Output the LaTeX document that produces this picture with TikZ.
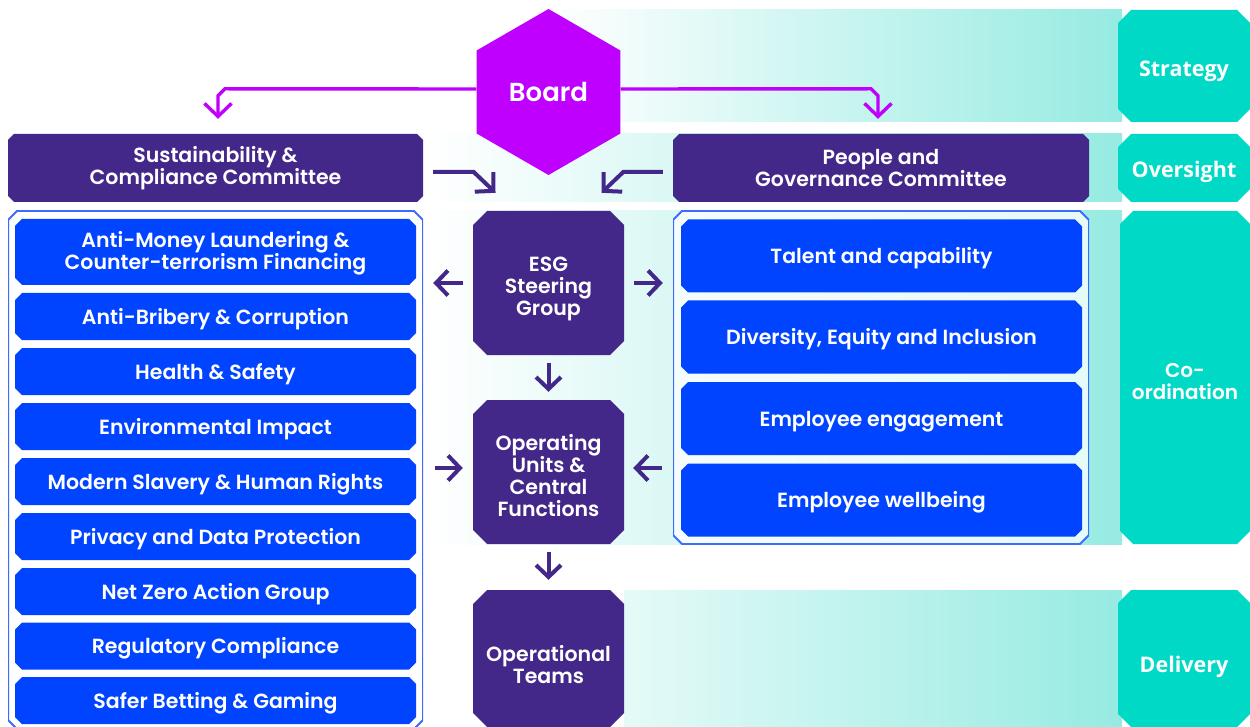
\documentclass[tikz,border=0pt]{standalone}
\usepackage{fontspec}
\setmainfont{Poppins}[BoldFont={Poppins SemiBold}]
\newfontfamily\lblfont{Open Sans}
\usetikzlibrary{shapes.geometric,arrows.meta,calc}

\definecolor{deep}{HTML}{43288A}
\definecolor{vivid}{HTML}{0044FF}
\definecolor{magent}{HTML}{BF00FF}
\definecolor{tealbox}{HTML}{00D9C6}
\definecolor{tealband}{HTML}{96EBE2}
\definecolor{outl}{HTML}{3D6BFF}

\newcommand{\ppb}{path picture bounding box}
\tikzset{
  % rectangle node whose background is an octagon with cut corners
  chbg/.style 2 args={rectangle, inner sep=0pt, path picture={
    \path[#1] ($(\ppb.south west)+(0,-#2)$) -- ($(\ppb.south west)+(#2,0)$)
      -- ($(\ppb.south east)+(-#2,0)$) -- ($(\ppb.south east)+(0,-#2)$)
      -- ($(\ppb.north east)+(0,#2)$) -- ($(\ppb.north east)+(-#2,0)$)
      -- ($(\ppb.north west)+(#2,0)$) -- ($(\ppb.north west)+(0,#2)$) -- cycle;}},
  txt/.style={font=\fontsize{#1}{22}\selectfont\bfseries},
  deepbox/.style={chbg={fill=deep}{#1}, text=white, align=center, txt=20.5},
  itembox/.style={chbg={fill=vivid}{7}, text=white, align=center,
    minimum width=401pt, txt=20.5, text height=21pt},
  tagbox/.style={chbg={fill=tealbox}{13}, text=white, align=center,
    minimum width=132pt, font=\lblfont\fontsize{21.5}{23}\selectfont\bfseries},
  darrow/.style={draw=deep, line width=4pt, -{Straight Barb[length=12pt,width=25pt]}},
  slant/.style={draw=deep, line width=4pt, -{Straight Barb[length=13pt,width=27pt]}},
  marrow/.style={draw=magent, line width=3.4pt, -{Straight Barb[length=13pt,width=27pt]}},
}

\begin{document}
\begin{tikzpicture}[x=1pt,y=-1pt]
\useasboundingbox (0,0) rectangle (1250,727);

% tier bands
\shade[left color=white, right color=tealband] (548,10) rectangle (1122,122);
\shade[left color=white, right color=tealband] (430,134) rectangle (1122,202);
\shade[left color=white, right color=tealband] (430,211) rectangle (1122,544);
\shade[left color=tealband!25, right color=tealband] (624,590) rectangle (1122,727);

% tier tags
\node[tagbox, minimum height=112pt, text height=27pt] (tStrat) at (1184,66) {Strategy};
\node[tagbox, minimum height=68pt, text height=25pt] (tOver) at (1184,168) {Oversight};
\node[tagbox, minimum width=130pt, minimum height=333pt, txt=20, text height=45pt] (tCoord) at (1185,377.5) {Co-\\ordination};
\node[tagbox, minimum height=137pt, text height=33pt] (tDeliv) at (1184,658.5) {Delivery};

% board
\node[regular polygon, regular polygon sides=6, regular polygon rotate=30,
      minimum size=166pt, inner sep=0pt, fill=magent, text=white,
      font=\fontsize{26}{28}\selectfont\bfseries] (Board) at (548.5,92) {Board};

% committees
\node[deepbox=6, minimum width=415pt, minimum height=68pt] (Sust) at (215.5,168)
  {Sustainability \&\\Compliance Committee};
\node[deepbox=6, minimum width=416pt, minimum height=68pt] (People) at (881,168)
  {People and\\Governance Committee};

% central column
\node[deepbox=14, minimum width=151pt, minimum height=144pt, text height=71pt] (ESG) at (548.5,283)
  {ESG\\Steering\\Group};
\node[deepbox=14, minimum width=151pt, minimum height=144pt, text height=89pt] (Ops) at (548.5,472)
  {Operating\\Units \&\\Central\\Functions};
\node[deepbox=14, minimum width=151pt, minimum height=137pt, text height=51pt] (Teams) at (548.5,658.5)
  {Operational\\Teams};

% left list
\node[chbg={fill=white, draw=outl, line width=2pt}{9}, minimum width=415pt, minimum height=518pt] (LeftBox) at (215.5,470) {};
\node[itembox, minimum height=66pt, text height=41pt] (l1) at (215.5,252) {Anti-Money Laundering \&\\Counter-terrorism Financing};
\node[itembox, minimum height=47pt] (l2) at (215.5,316.5) {Anti-Bribery \& Corruption};
\node[itembox, minimum height=47pt] (l3) at (215.5,371.5) {Health \& Safety};
\node[itembox, minimum height=47pt] (l4) at (215.5,426.5) {Environmental Impact};
\node[itembox, minimum height=47pt] (l5) at (215.5,481.5) {Modern Slavery \& Human Rights};
\node[itembox, minimum height=47pt] (l6) at (215.5,536.5) {Privacy and Data Protection};
\node[itembox, minimum height=47pt] (l7) at (215.5,591.5) {Net Zero Action Group};
\node[itembox, minimum height=47pt] (l8) at (215.5,646) {Regulatory Compliance};
\node[itembox, minimum height=47pt] (l9) at (215.5,700.5) {Safer Betting \& Gaming};

% right list
\node[chbg={fill=white, fill opacity=0.75, draw=outl, line width=2pt}{9}, minimum width=416pt, minimum height=333pt] (RightBox) at (881,377.5) {};
\node[itembox, minimum height=73pt] (r1) at (881.5,256) {Talent and capability};
\node[itembox, minimum height=73pt] (r2) at (881.5,337) {Diversity, Equity and Inclusion};
\node[itembox, minimum height=73pt] (r3) at (881.5,418.5) {Employee engagement};
\node[itembox, minimum height=73pt] (r4) at (881.5,500) {Employee wellbeing};

% board to committees
\coordinate (sTip) at ($(Sust.north)+(2.5,-15)$);
\coordinate (pTip) at ($(People.north)+(-3,-15)$);
\draw[marrow] ([yshift=3pt]Board.west) -- ($(sTip)+(7,-30)$) -- ($(sTip)+(0,-23)$) -- (sTip);
\draw[marrow] ([yshift=3pt]Board.east) -- ($(pTip)+(-7,-30)$) -- ($(pTip)+(0,-23)$) -- (pTip);

% committees to steering group
\draw[slant] ([xshift=10pt,yshift=-4pt]Sust.east) -- ($(ESG.north)+(-75,-39)$) -- ($(ESG.north)+(-53,-18)$);
\draw[slant] ([xshift=-10pt,yshift=-4pt]People.west) -- ($(ESG.north)+(75,-39)$) -- ($(ESG.north)+(53,-18)$);

% steering group outputs
\draw[darrow] ([xshift=-10pt]ESG.west) -- ([xshift=10pt]ESG.west -| LeftBox.east);
\draw[darrow] ([xshift=10pt]ESG.east) -- ([xshift=-10pt]ESG.east -| RightBox.west);
\draw[darrow] ([yshift=-8pt]ESG.south) -- ([yshift=8pt]Ops.north);

% into operating units
\draw[darrow] ([xshift=12pt,yshift=4pt]Ops.west -| LeftBox.east) -- ([xshift=-10pt,yshift=4pt]Ops.west);
\draw[darrow] ([xshift=-11pt,yshift=4pt]Ops.east -| RightBox.west) -- ([xshift=9pt,yshift=4pt]Ops.east);
\draw[darrow] ([yshift=-8pt]Ops.south) -- ([yshift=10pt]Teams.north);
\end{tikzpicture}
\end{document}
